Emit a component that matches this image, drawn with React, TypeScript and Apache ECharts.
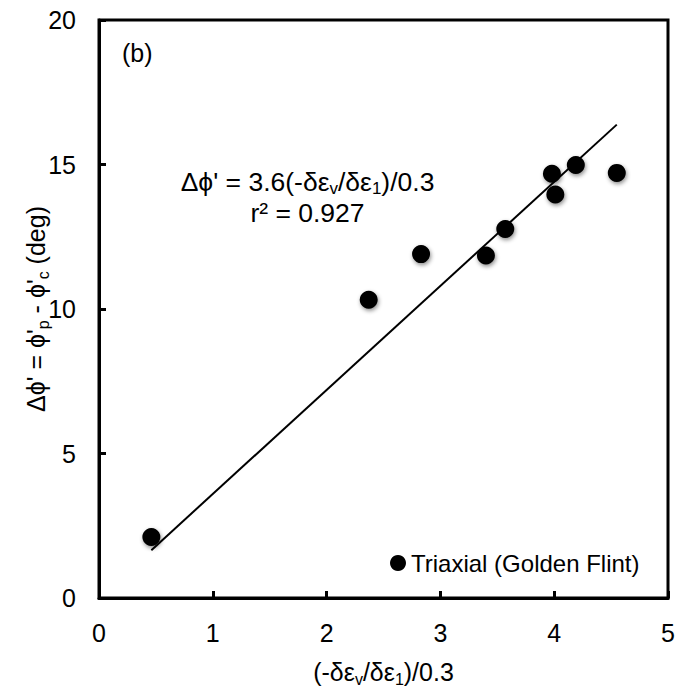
import React, { useEffect, useRef } from "react";
import * as echarts from "echarts";

const seriesName = "Triaxial (Golden Flint)";
const dilatancyX = [0.46, 2.37, 2.83, 3.4, 3.57, 3.98, 4.01, 4.19, 4.55];
const deltaPhiY = [2.11, 10.32, 11.9, 11.85, 12.77, 14.68, 13.96, 14.98, 14.71];
const trendSlope = 3.6;
const xTicks = [0, 1, 2, 3, 4, 5];
const yTicks = [0, 5, 10, 15, 20];
const panelLabel = "(b)";

const FONT = "'Liberation Sans', Arial, sans-serif";

export default function App() {
  const ref = useRef<HTMLDivElement>(null);

  useEffect(() => {
    if (!ref.current) return;
    const chart = echarts.init(ref.current, undefined, { renderer: "svg" });

    const points = dilatancyX.map((x, i) => [x, deltaPhiY[i]]);
    const xMin = Math.min(...dilatancyX);
    const xMax = Math.max(...dilatancyX);
    const trend = [
      [xMin, trendSlope * xMin],
      [xMax, trendSlope * xMax],
    ];

    const mainRich = { fontSize: 26.5, lineHeight: 30, fontFamily: FONT, color: "#000" };
    const subRich = { fontSize: 17, lineHeight: 16, fontFamily: FONT, color: "#000", verticalAlign: "bottom" };
    const axRich = { fontSize: 25, lineHeight: 30, fontFamily: FONT, color: "#000" };
    const axSub = { fontSize: 16, lineHeight: 16, fontFamily: FONT, color: "#000", verticalAlign: "bottom" };

    chart.setOption({
      animation: false,
      backgroundColor: "#fff",
      textStyle: { fontFamily: FONT },
      grid: {
        left: 99,
        right: 10,
        top: 20,
        bottom: 92,
        containLabel: false,
        outerBoundsMode: "none",
        show: true,
        borderColor: "#000",
        borderWidth: 3,
        backgroundColor: "transparent",
      },
      legend: {
        data: [seriesName],
        left: 390,
        top: 551,
        padding: 0,
        icon: "circle",
        itemWidth: 16,
        itemHeight: 16,
        itemStyle: { color: "#000", opacity: 1, shadowBlur: 0, shadowOffsetX: 0, shadowOffsetY: 0 },
        textStyle: { fontSize: 24, fontFamily: FONT, color: "#000" },
      },
      xAxis: {
        type: "value",
        min: xTicks[0],
        max: xTicks[xTicks.length - 1],
        interval: 1,
        name: "{m|(-δε}{s|v}{m|/δε}{s|1}{m|)/0.3}",
        nameLocation: "middle",
        nameGap: 59,
        nameMoveOverlap: false,
        nameTextStyle: { rich: { m: axRich, s: axSub } },
        axisLine: { show: true, onZero: false, lineStyle: { color: "#000", width: 3 } },
        axisTick: { show: true, inside: true, length: 7, lineStyle: { color: "#000", width: 3 } },
        axisLabel: { fontSize: 25, color: "#000", margin: 22, fontFamily: FONT },
        splitLine: { show: false },
      },
      yAxis: {
        type: "value",
        min: yTicks[0],
        max: yTicks[yTicks.length - 1],
        interval: 5,
        name: "{m|Δϕ' = ϕ'}{s|p}{m| - ϕ'}{s|c}{m| (deg)}",
        nameLocation: "middle",
        nameGap: 48,
        nameRotate: 90,
        nameMoveOverlap: false,
        nameTextStyle: { rich: { m: axRich, s: axSub } },
        axisLine: { show: true, onZero: false, lineStyle: { color: "#000", width: 3 } },
        axisTick: { show: true, inside: true, length: 7, lineStyle: { color: "#000", width: 3 } },
        axisLabel: { fontSize: 25, color: "#000", margin: 23, fontFamily: FONT },
        splitLine: { show: false },
      },
      series: [
        {
          name: "trend",
          type: "line",
          data: trend,
          showSymbol: false,
          silent: true,
          lineStyle: { color: "#000", width: 2 },
          z: 1,
        },
        {
          name: seriesName,
          type: "scatter",
          data: points,
          symbol: "circle",
          symbolSize: 18,
          itemStyle: {
            color: "#000",
            opacity: 1,
            shadowBlur: 4,
            shadowColor: "rgba(0,0,0,0.45)",
            shadowOffsetX: 1,
            shadowOffsetY: 2,
          },
          z: 3,
        },
      ],
      graphic: [
        {
          type: "text",
          x: 122,
          y: 53,
          style: {
            text: panelLabel,
            fontSize: 25,
            fontFamily: FONT,
            fill: "#000",
            verticalAlign: "middle",
          },
        },
        {
          type: "text",
          x: 307.5,
          y: 182,
          style: {
            text: "{m|Δϕ' = 3.6(-δε}{s|v}{m|/δε}{s|1}{m|)/0.3}",
            rich: { m: mainRich, s: subRich },
            align: "center",
            verticalAlign: "middle",
          },
        },
        {
          type: "text",
          x: 307.5,
          y: 213,
          style: {
            text: "r² = 0.927",
            fontSize: 26.5,
            fontFamily: FONT,
            fill: "#000",
            align: "center",
            verticalAlign: "middle",
          },
        },
      ],
    });

    return () => chart.dispose();
  }, []);

  return (
    <div
      ref={ref}
      style={{ position: "fixed", left: 0, top: 0, width: 678, height: 690, background: "#fff" }}
    />
  );
}
